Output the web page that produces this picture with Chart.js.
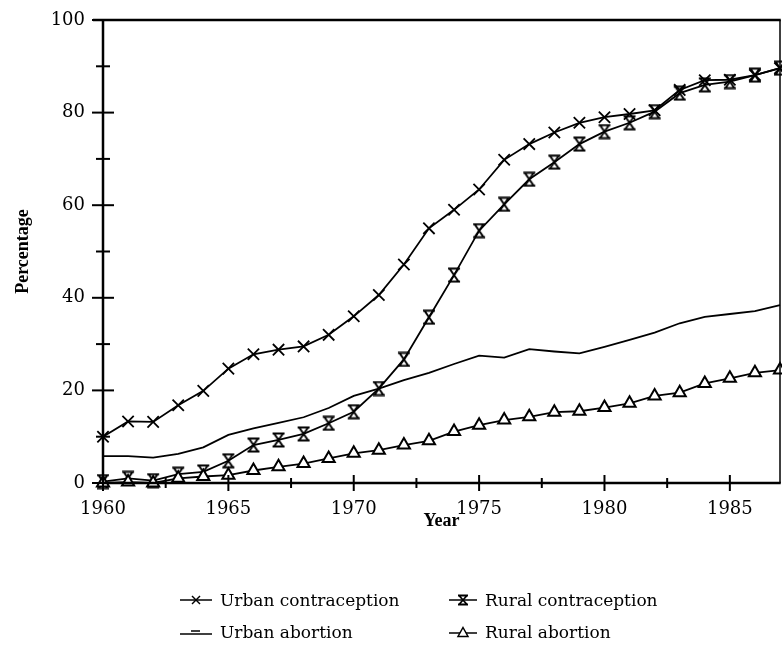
<!DOCTYPE html>
<html><head><meta charset="utf-8">
<script src="https://cdn.jsdelivr.net/npm/chart.js@4.4.1/dist/chart.umd.min.js"></script>
<style>
html,body{margin:0;padding:0;background:#fff;}
#wrap{position:relative;width:782px;height:648px;overflow:hidden;}
#c{position:absolute;left:0;top:0;}
.leg{position:absolute;font-family:'DejaVu Serif',serif;font-size:17px;color:#000;display:flex;align-items:center;white-space:nowrap;height:22px;}
.leg svg{margin-right:8px;display:block;}
</style></head><body>
<div id="wrap"><canvas id="c" width="782" height="648"></canvas><div id="legend"></div></div>
<script>
const years = [1960,1961,1962,1963,1964,1965,1966,1967,1968,1969,1970,1971,1972,1973,1974,1975,1976,1977,1978,1979,1980,1981,1982,1983,1984,1985,1986,1987];
const urbanContraception = [10.0,13.3,13.2,16.8,19.9,24.7,27.8,28.8,29.5,32.0,36.0,40.6,47.2,55.0,59.0,63.4,69.8,73.2,75.7,77.8,79.0,79.7,80.5,84.9,87.0,87.1,88.1,89.6];
const ruralContraception = [0.3,1.0,0.5,1.9,2.4,4.8,8.2,9.3,10.6,12.9,15.4,20.4,26.7,35.8,44.9,54.5,60.2,65.6,69.3,73.2,75.9,77.8,80.2,84.2,86.0,86.7,88.1,89.6];
const urbanAbortion = [5.8,5.8,5.5,6.3,7.7,10.4,11.8,13.0,14.2,16.2,18.8,20.4,22.2,23.8,25.7,27.5,27.1,28.9,28.4,28.0,29.4,30.9,32.5,34.5,35.9,36.5,37.1,38.4];
const ruralAbortion = [0,0.2,0,1.0,1.4,1.7,2.7,3.5,4.2,5.3,6.4,7.1,8.2,9.1,11.1,12.5,13.6,14.3,15.3,15.5,16.3,17.2,18.8,19.5,21.5,22.6,23.8,24.4];
const seriesNames = ['Urban contraception','Rural contraception','Urban abortion','Rural abortion'];
const xMajorTicks = [1960,1965,1970,1975,1980,1985];
const xMinorTicks = [1962.5,1967.5,1972.5,1977.5,1982.5];
const yMajorTicks = [0,20,40,60,80,100];
const yMinorTicks = [10,30,50,70,90];
const xTitle = 'Year';
const yTitle = 'Percentage';

function makeHourglass(){
  const c = document.createElement('canvas');
  c.width = 14; c.height = 16;
  const g = c.getContext('2d');
  g.strokeStyle = '#000'; g.lineWidth = 2; g.lineCap = 'butt';
  g.beginPath();
  g.moveTo(1,1.5); g.lineTo(13,1.5);
  g.moveTo(1,14.5); g.lineTo(13,14.5);
  g.moveTo(2.5,1.5); g.lineTo(11.5,14.5);
  g.moveTo(11.5,1.5); g.lineTo(2.5,14.5);
  g.stroke();
  return c;
}
const hourglass = makeHourglass();

const pts = arr => years.map((yr,i)=>({x:yr,y:arr[i]}));

const axesPlugin = {
  id:'axesPlugin',
  afterDraw(chart){
    const {ctx, chartArea:a, scales:{x,y}} = chart;
    ctx.save();
    ctx.strokeStyle = '#000';
    ctx.lineCap = 'butt';
    ctx.lineWidth = 1.5;
    ctx.beginPath(); ctx.moveTo(a.right, a.top); ctx.lineTo(a.right, a.bottom); ctx.stroke();
    ctx.lineWidth = 2.5;
    ctx.beginPath(); ctx.moveTo(a.left-10, a.top); ctx.lineTo(a.right+0.75, a.top); ctx.stroke();
    ctx.beginPath(); ctx.moveTo(a.left, a.top); ctx.lineTo(a.left, a.bottom+1.25); ctx.stroke();
    ctx.beginPath(); ctx.moveTo(a.left-1.25, a.bottom); ctx.lineTo(a.right+0.75, a.bottom); ctx.stroke();
    ctx.lineWidth = 2;
    yMajorTicks.forEach(v=>{const p=y.getPixelForValue(v); ctx.beginPath(); ctx.moveTo(a.left-11,p); ctx.lineTo(a.left+11,p); ctx.stroke();});
    yMinorTicks.forEach(v=>{const p=y.getPixelForValue(v); ctx.beginPath(); ctx.moveTo(a.left-7,p); ctx.lineTo(a.left+7,p); ctx.stroke();});
    xMajorTicks.forEach(v=>{const p=x.getPixelForValue(v); ctx.beginPath(); ctx.moveTo(p,a.bottom-8); ctx.lineTo(p,a.bottom+8); ctx.stroke();});
    xMinorTicks.forEach(v=>{const p=x.getPixelForValue(v); ctx.beginPath(); ctx.moveTo(p,a.bottom-5); ctx.lineTo(p,a.bottom+5); ctx.stroke();});
    ctx.restore();
  }
};

const tickFont = {family:'DejaVu Serif', size:18};
const titleFont = {family:'Liberation Serif', size:18, weight:'bold'};

new Chart(document.getElementById('c'), {
  type:'line',
  data:{datasets:[
    {label:seriesNames[2], data:pts(urbanAbortion), borderColor:'#000', borderWidth:1.8, pointRadius:0, tension:0, clip:false},
    {label:seriesNames[3], data:pts(ruralAbortion), borderColor:'#000', borderWidth:1.8, pointStyle:'triangle', pointRadius:7, pointBackgroundColor:'#fff', pointBorderColor:'#000', pointBorderWidth:2, tension:0, clip:false},
    {label:seriesNames[1], data:pts(ruralContraception), borderColor:'#000', borderWidth:1.8, pointStyle:hourglass, pointRadius:7, tension:0, clip:false},
    {label:seriesNames[0], data:pts(urbanContraception), borderColor:'#000', borderWidth:1.8, pointStyle:'crossRot', pointRadius:8, pointBorderColor:'#000', pointBorderWidth:1.8, tension:0, clip:false}
  ]},
  options:{
    responsive:false, animation:false, devicePixelRatio:1,
    layout:{autoPadding:false, padding:{left:0, top:20, right:2, bottom:95}},
    plugins:{legend:{display:false}, tooltip:{enabled:false}},
    scales:{
      x:{type:'linear', min:1960, max:1987,
        grid:{display:false, drawTicks:false}, border:{display:false},
        afterBuildTicks:s=>{s.ticks = xMajorTicks.map(v=>({value:v}));},
        afterFit:s=>{s.height = 70; s.paddingLeft = 0; s.paddingRight = 0;},
        ticks:{font:tickFont, color:'#000', padding:16, maxRotation:0, autoSkip:false, callback:v=>String(v)},
        title:{display:true, text:xTitle, font:titleFont, color:'#000', padding:{top:0,bottom:21}}
      },
      y:{type:'linear', min:0, max:100,
        grid:{display:false, drawTicks:false}, border:{display:false},
        afterBuildTicks:s=>{s.ticks = yMajorTicks.map(v=>({value:v}));},
        afterFit:s=>{s.width = 103; s.paddingTop = 0; s.paddingBottom = 0;},
        ticks:{font:tickFont, color:'#000', padding:18, autoSkip:false, callback:v=>String(v)},
        title:{display:true, text:yTitle, font:titleFont, color:'#000', padding:{top:13,bottom:0}}
      }
    }
  },
  plugins:[axesPlugin]
});

const svgs = {
  'Urban contraception':'<svg width="32" height="16"><line x1="0" y1="8" x2="32" y2="8" stroke="#000" stroke-width="1.5"/><line x1="12" y1="4" x2="20" y2="12" stroke="#000" stroke-width="1.5"/><line x1="20" y1="4" x2="12" y2="12" stroke="#000" stroke-width="1.5"/></svg>',
  'Rural contraception':'<svg width="28" height="16"><line x1="0" y1="8" x2="28" y2="8" stroke="#000" stroke-width="1.5"/><path d="M9 3.5H19M9 12.5H19M10 3.5L18 12.5M18 3.5L10 12.5" stroke="#000" stroke-width="1.8" fill="none"/></svg>',
  'Urban abortion':'<svg width="32" height="16"><line x1="0" y1="10" x2="32" y2="10" stroke="#000" stroke-width="1.5"/><line x1="11" y1="7" x2="20" y2="7" stroke="#000" stroke-width="1.5"/></svg>',
  'Rural abortion':'<svg width="28" height="16"><line x1="0" y1="9" x2="28" y2="9" stroke="#000" stroke-width="1.5"/><path d="M14 3.5L19 12.5H9Z" stroke="#000" stroke-width="1.5" fill="#fff"/></svg>'
};
const legPos = [
  {name:seriesNames[0], left:180, top:589},
  {name:seriesNames[1], left:449, top:589},
  {name:seriesNames[2], left:180, top:621},
  {name:seriesNames[3], left:449, top:621}
];
const legEl = document.getElementById('legend');
legPos.forEach(p=>{
  const d = document.createElement('div');
  d.className = 'leg';
  d.style.left = p.left+'px'; d.style.top = p.top+'px';
  d.innerHTML = svgs[p.name] + '<span>'+p.name+'</span>';
  legEl.appendChild(d);
});
</script>
</body></html>
